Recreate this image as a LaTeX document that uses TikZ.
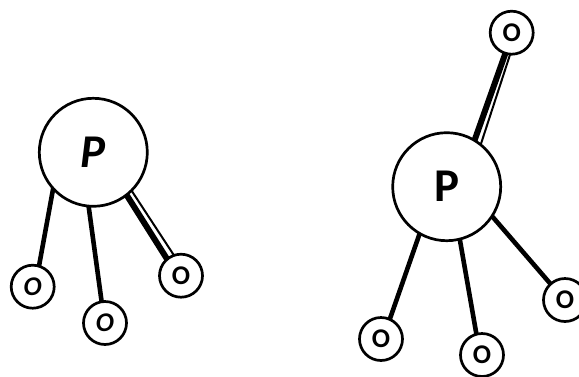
\documentclass[tikz,border=0pt]{standalone}
\usepackage{fontspec}
\setmainfont{Carlito}
\tikzset{
  atomP/.style={circle,draw=black,fill=white,line width=2.7pt,minimum size=108pt,inner sep=0pt,outer sep=0pt,font=\fontsize{47}{47}\selectfont\bfseries},
  atomO/.style={circle,draw=black,fill=white,line width=2.7pt,minimum size=43pt,inner sep=0pt,outer sep=0pt,font=\fontsize{27}{27}\selectfont\bfseries},
  bond/.style={line width=4.6pt,black},
  heavy/.style={line width=6pt,black},
  light/.style={line width=2pt,black}
}
\begin{document}
\begin{tikzpicture}[x=1pt,y=-1pt]
\useasboundingbox (0,0) rectangle (579,376);
\clip (0,0) rectangle (579,376);
% left molecule
\node[atomP] (P1) at (93.3,152.3) {\raisebox{-2pt}{\itshape P}};
\node[atomO] (A1) at (32.7,286.7) {\itshape O};
\node[atomO] (A2) at (105,323) {\itshape O};
\node[atomO] (A3) at (181,275.7) {\raisebox{-1.5pt}{O}};
\draw[bond] (P1.-138) -- (A1.73);
\draw[bond] (P1.-95) -- (A2.99);
\draw[heavy] (P1.-52.7) -- (A3.130);
\draw[light] (P1.-45.7) -- (A3.109);
% right molecule
\node[atomP] (P2) at (446.7,186.7) {\raisebox{-2pt}{P}};
\node[atomO] (B0) at (511.7,32.7) {O};
\node[atomO] (B1) at (381,339) {O};
\node[atomO] (B2) at (482,355) {O};
\node[atomO] (B3) at (565,300) {O};
\draw[heavy] (P2.59.6) -- (B0.-107);
\draw[light] (P2.51.6) -- (B0.-94);
\draw[bond] (P2.-120) -- (B1.66.6);
\draw[bond] (P2.-76.8) -- (B2.105.5);
\draw[bond] (P2.-33) -- (B3.132);
\end{tikzpicture}
\end{document}
